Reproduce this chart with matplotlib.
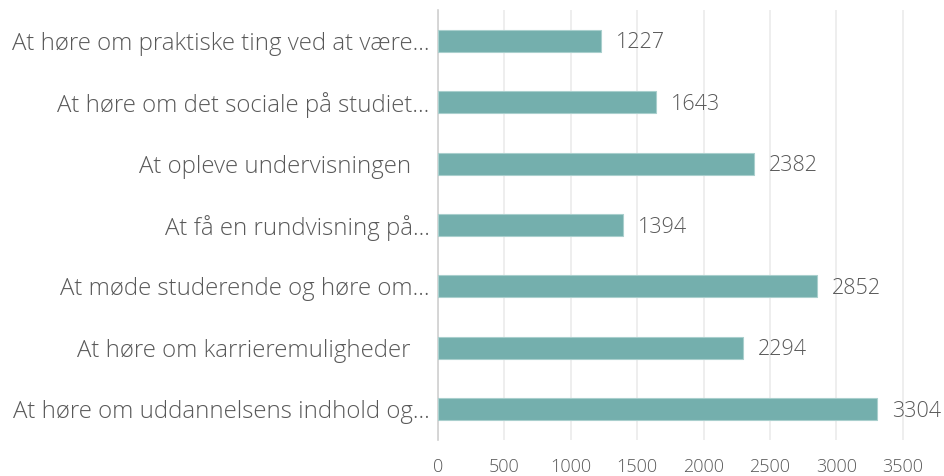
import matplotlib.pyplot as plt

categories = [
    'At høre om praktiske ting ved at være...',
    'At høre om det sociale på studiet...',
    'At opleve undervisningen   ',
    'At få en rundvisning på...',
    'At møde studerende og høre om...',
    'At høre om karrieremuligheder   ',
    'At høre om uddannelsens indhold og...',
]
values = [1227, 1643, 2382, 1394, 2852, 2294, 3304]
xticks = [0, 500, 1000, 1500, 2000, 2500, 3000, 3500]

plt.rcParams['font.family'] = ['Open Sans', 'DejaVu Sans']
text_color = '#595959'

fig = plt.figure(figsize=(9.45, 4.76), dpi=100)
ax = fig.add_axes([0.4635, 0.0756, 0.527, 0.9034])

pos = list(range(len(categories)))
ax.barh(pos, values, height=0.36, color='#74AFAD', edgecolor='#A9CFCD', linewidth=0.8, zorder=3)

# value labels right of the bars
for y, v in zip(pos, values):
    ax.annotate(str(v), (v, y), xytext=(15, -2), textcoords='offset pixels',
                va='center', ha='left', fontsize=15.5, color=text_color, fontweight='light')

ax.set_ylim(len(categories) - 0.5, -0.5)
ax.set_xlim(0, 3750)
ax.set_yticks(pos)
ax.set_yticklabels(categories, fontsize=17.3, color=text_color, fontweight='light')
ax.set_xticks(xticks)
ax.set_xticklabels([str(t) for t in xticks], fontsize=13, color=text_color, fontweight='light')
ax.tick_params(axis='y', length=0, pad=6)
ax.tick_params(axis='x', length=0, pad=13)

ax.grid(axis='x', color='#EBEBEB', linewidth=1.2, zorder=0)
for s in ['top', 'right', 'bottom']:
    ax.spines[s].set_visible(False)
ax.spines['left'].set_color('#D0D0D0')
ax.spines['left'].set_linewidth(1.2)

fig.savefig('out.png', dpi=100)
